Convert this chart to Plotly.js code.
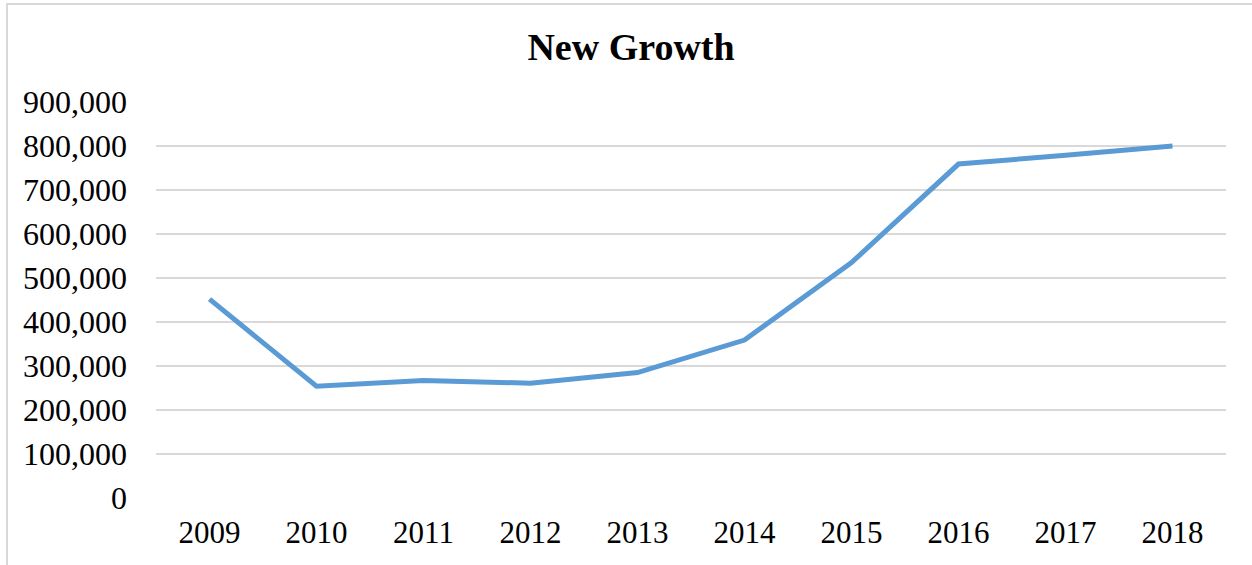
<!DOCTYPE html>
<html>
<head>
<meta charset="utf-8">
<script src="https://cdn.plot.ly/plotly-3.0.1.min.js"></script>
<style>
  html, body { margin: 0; padding: 0; overflow: hidden; background: #fff; }
  #chart { width: 1252px; height: 565px; }
  #frame { position: absolute; left: 6px; top: 3px; width: 1300px; height: 620px;
           border: 2px solid #d9d9d9; pointer-events: none; box-sizing: border-box; }
</style>
</head>
<body>
<div id="chart"></div>
<div id="frame"></div>
<script>
const years = ['2009','2010','2011','2012','2013','2014','2015','2016','2017','2018'];
const newGrowth = [452000, 254000, 267000, 261000, 285000, 359000, 535000, 759000, 779000, 800000];
const yTickVals = [0,100000,200000,300000,400000,500000,600000,700000,800000,900000];
const yTickText = ['0','100,000','200,000','300,000','400,000','500,000','600,000','700,000','800,000','900,000'];

const font = 'Liberation Serif, Times New Roman, serif';

Plotly.newPlot('chart', [{
  x: years,
  y: newGrowth,
  type: 'scatter',
  mode: 'lines',
  line: { color: '#5b9bd5', width: 5 },
  hoverinfo: 'x+y'
}], {
  width: 1252,
  height: 565,
  margin: { l: 156, r: 26, t: 102, b: 67 },
  paper_bgcolor: '#fff',
  plot_bgcolor: '#fff',
  showlegend: false,
  title: {
    text: '<b>New Growth</b>',
    font: { family: font, size: 38, color: '#000' },
    x: 631/1252, xref: 'container', xanchor: 'center',
    y: 1 - 47/565, yref: 'container', yanchor: 'middle'
  },
  xaxis: {
    type: 'category',
    range: [-0.5, 9.5],
    showgrid: false,
    zeroline: false,
    showline: false,
    ticks: '',
    ticklabelstandoff: 13,
    tickfont: { family: font, size: 31, color: '#000' }
  },
  yaxis: {
    range: [0, 900000],
    tickvals: yTickVals,
    ticktext: yTickText,
    showgrid: true,
    gridcolor: '#d9d9d9',
    gridwidth: 2,
    zeroline: false,
    showline: false,
    ticks: '',
    ticklabelstandoff: 28,
    tickfont: { family: font, size: 32, color: '#000' }
  }
}, { displayModeBar: false, staticPlot: true });
</script>
</body>
</html>
